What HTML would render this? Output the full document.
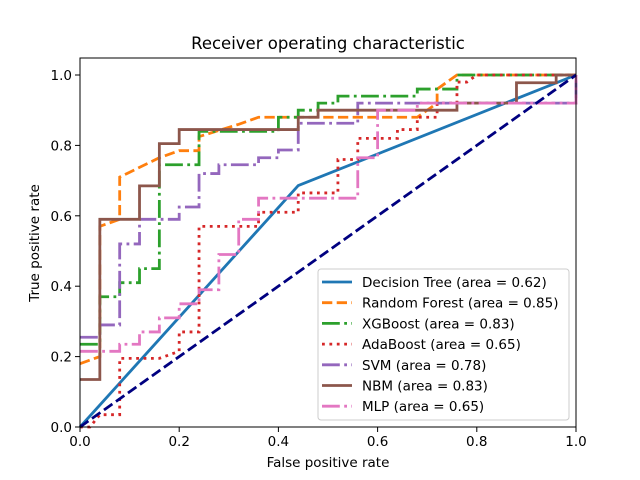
<!DOCTYPE html>
<html><head><meta charset="utf-8"><style>
body{margin:0;background:#fff}
svg{display:block;font-family:"DejaVu Sans","Liberation Sans",sans-serif}
</style></head><body>
<svg id="chart" width="640" height="480" viewBox="0 0 640 480">
<rect width="640" height="480" fill="#fff"/>
<text x="328" y="49" text-anchor="middle" font-size="16.5">Receiver operating characteristic</text>
<g id="plot"></g>
<rect x="80" y="58" width="496" height="369" fill="none" stroke="#000" stroke-width="1"/>
<g id="ticks"></g>
<text x="328" y="467" text-anchor="middle" font-size="13.5">False positive rate</text>
<text transform="translate(39,243) rotate(-90)" text-anchor="middle" font-size="13.5">True positive rate</text>
<g id="legend"></g>
</svg>
<script>
const seriesNames=["Decision Tree","Random Forest","XGBoost","AdaBoost","SVM","NBM","MLP"];
const areas=["0.62","0.85","0.83","0.65","0.78","0.83","0.65"];
const tickValues=[0,0.2,0.4,0.6,0.8,1.0];
const tickLabels=["0.0","0.2","0.4","0.6","0.8","1.0"];
const dtPts=[[0,0],[0.44,0.686],[1,1]];
const rfPts=[[0,0.18],[0.04,0.2],[0.04,0.57],[0.08,0.59],[0.08,0.71],[0.16,0.765],[0.2,0.785],[0.24,0.785],[0.24,0.825],[0.32,0.86],[0.36,0.88],[0.68,0.88],[0.72,0.92],[0.72,0.96],[0.76,1],[1,1]];
const xgPts=[[0,0.235],[0.04,0.235],[0.04,0.37],[0.08,0.37],[0.08,0.41],[0.12,0.41],[0.12,0.45],[0.16,0.45],[0.16,0.745],[0.24,0.745],[0.24,0.84],[0.4,0.84],[0.4,0.88],[0.44,0.88],[0.44,0.9],[0.48,0.9],[0.48,0.92],[0.52,0.92],[0.52,0.94],[0.68,0.94],[0.68,0.96],[0.76,0.96],[0.76,1],[1,1]];
const adaPts=[[0,0],[0.02,0],[0.04,0.035],[0.08,0.035],[0.08,0.195],[0.16,0.195],[0.2,0.215],[0.2,0.27],[0.24,0.27],[0.24,0.57],[0.36,0.57],[0.36,0.61],[0.44,0.61],[0.44,0.665],[0.52,0.665],[0.52,0.76],[0.56,0.76],[0.56,0.82],[0.64,0.82],[0.64,0.845],[0.68,0.845],[0.68,0.88],[0.72,0.88],[0.72,0.92],[0.76,0.92],[0.76,0.98],[0.78,0.98],[0.8,1],[1,1]];
const svmPts=[[0,0.255],[0.04,0.255],[0.04,0.29],[0.08,0.29],[0.08,0.52],[0.12,0.52],[0.12,0.59],[0.2,0.59],[0.2,0.625],[0.24,0.625],[0.24,0.72],[0.28,0.72],[0.28,0.745],[0.36,0.745],[0.36,0.765],[0.4,0.765],[0.4,0.787],[0.44,0.787],[0.44,0.863],[0.56,0.863],[0.56,0.92],[1,0.92],[1,1]];
const nbmPts=[[0,0.135],[0.04,0.135],[0.04,0.59],[0.12,0.59],[0.12,0.685],[0.16,0.685],[0.16,0.805],[0.2,0.805],[0.2,0.845],[0.44,0.845],[0.44,0.88],[0.48,0.88],[0.48,0.9],[0.76,0.9],[0.76,0.92],[0.88,0.92],[0.88,0.978],[0.96,0.978],[0.96,1],[1,1]];
const mlpPts=[[0,0.215],[0.08,0.215],[0.08,0.235],[0.12,0.235],[0.12,0.27],[0.16,0.27],[0.16,0.31],[0.2,0.31],[0.2,0.35],[0.24,0.35],[0.24,0.39],[0.28,0.39],[0.28,0.49],[0.32,0.49],[0.32,0.59],[0.36,0.59],[0.36,0.65],[0.56,0.65],[0.56,0.765],[0.6,0.765],[0.6,0.9],[0.68,0.9],[0.68,0.92],[1,0.92],[1,1]];
const diagPts=[[0,0],[1,1]];
const NS="http://www.w3.org/2000/svg";
const X=v=>80+496*v, Y=v=>427-352*v;
const styles=[["#1f77b4",""],["#ff7f0e","10.3 4.4"],["#2ca02c","17.8 4.4 2.8 4.4"],["#d62728","2.8 4.6"],["#9467bd","17.8 4.4 2.8 4.4"],["#8c564b",""],["#e377c2","17.8 4.4 2.8 4.4"]];
const allPts=[dtPts,rfPts,xgPts,adaPts,svmPts,nbmPts,mlpPts];
const plot=document.getElementById('plot');
function line(pts,color,dash,w){
  const p=document.createElementNS(NS,'polyline');
  p.setAttribute('points',pts.map(q=>X(q[0])+','+Y(q[1])).join(' '));
  p.setAttribute('fill','none');p.setAttribute('stroke',color);p.setAttribute('stroke-width',w);
  if(dash)p.setAttribute('stroke-dasharray',dash);
  return p;
}
allPts.forEach((pts,i)=>{
  const p=line(pts,styles[i][0],styles[i][1],2.8);
  
  
  plot.appendChild(p);
});
const d=line(diagPts,"#000080","10.3 4.4",2.8);


plot.appendChild(d);
const tk=document.getElementById('ticks');
tickValues.forEach((v,i)=>{
  const a=document.createElementNS(NS,'line');
  a.setAttribute('x1',X(v));a.setAttribute('x2',X(v));a.setAttribute('y1',427);a.setAttribute('y2',432);a.setAttribute('stroke','#000');
  
  
  tk.appendChild(a);
  const t=document.createElementNS(NS,'text');
  t.setAttribute('x',X(v));t.setAttribute('y',446);t.setAttribute('text-anchor','middle');t.setAttribute('font-size','13.5');
  t.textContent=tickLabels[i];
  
  
  tk.appendChild(t);
  const b=document.createElementNS(NS,'line');
  b.setAttribute('x1',75);b.setAttribute('x2',80);b.setAttribute('y1',Y(v));b.setAttribute('y2',Y(v));b.setAttribute('stroke','#000');
  
  
  tk.appendChild(b);
  const u=document.createElementNS(NS,'text');
  u.setAttribute('x',72);u.setAttribute('y',Y(v)+5);u.setAttribute('text-anchor','end');u.setAttribute('font-size','13.5');
  u.textContent=tickLabels[i];
  
  
  tk.appendChild(u);
});
const lg=document.getElementById('legend');
const box=document.createElementNS(NS,'rect');
box.setAttribute('x',318);box.setAttribute('y',269);box.setAttribute('width',251);box.setAttribute('height',151);box.setAttribute('rx',3);
box.setAttribute('fill','#fff');box.setAttribute('fill-opacity','0.8');box.setAttribute('stroke','#ccc');


lg.appendChild(box);
seriesNames.forEach((n,i)=>{
  const y=282+20.7*i;
  const l=document.createElementNS(NS,'line');
  l.setAttribute('x1',322);l.setAttribute('x2',352);l.setAttribute('y1',y);l.setAttribute('y2',y);
  l.setAttribute('stroke',styles[i][0]);l.setAttribute('stroke-width',2.8);
  if(styles[i][1])l.setAttribute('stroke-dasharray',styles[i][1]);
  
  
  lg.appendChild(l);
  const t=document.createElementNS(NS,'text');
  t.setAttribute('x',362);t.setAttribute('y',y+5);t.setAttribute('font-size','13.5');
  t.textContent=n+' (area = '+areas[i]+')';
  
  
  lg.appendChild(t);
});
</script>
</body></html>
